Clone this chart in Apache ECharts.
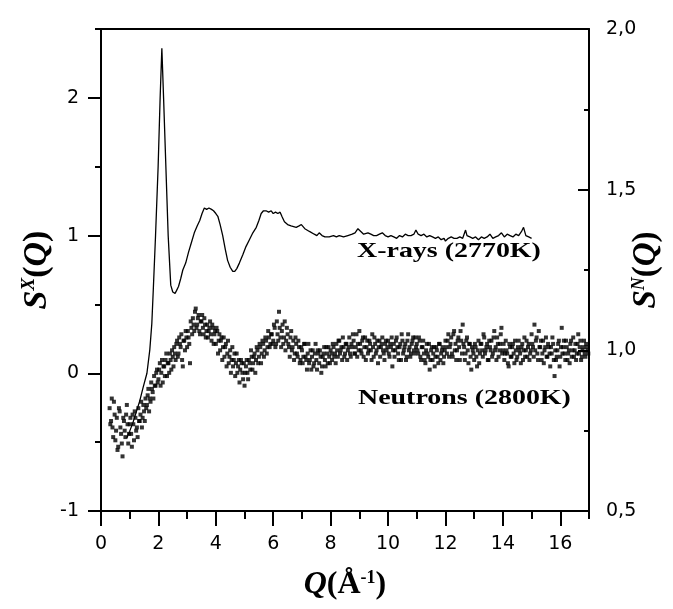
<!DOCTYPE html>
<html>
<head>
<meta charset="utf-8">
<script src="https://cdn.jsdelivr.net/npm/echarts@6/dist/echarts.min.js"></script>
<style>
html,body{margin:0;padding:0;background:#fff;}
#chart{width:673px;height:609px;}
</style>
</head>
<body>
<div id="chart"></div>
<script>
// ---- Data ----
const xMajorTicks = [0, 2, 4, 6, 8, 10, 12, 14, 16];
const xMinorTicks = [1, 3, 5, 7, 9, 11, 13, 15, 17];
const leftMajorTicks = [-1, 0, 1, 2];
const leftMinorTicks = [-0.5, 0.5, 1.5, 2.5];
const rightMajorTicks = [0.5, 1.0, 1.5, 2.0];
const rightMinorTicks = [0.75, 1.25, 1.75];

// X-rays S^X(Q), left axis
const xrayQ = [0.9,1.0,1.11,1.23,1.35,1.47,1.6,1.7,1.77,1.82,1.9,1.99,2.06,2.12,2.18,2.26,2.34,2.43,2.5,2.58,2.63,2.7,2.78,2.85,2.95,3.05,3.15,3.25,3.35,3.44,3.52,3.6,3.68,3.76,3.85,3.92,4.0,4.07,4.15,4.24,4.33,4.41,4.5,4.59,4.66,4.73,4.82,4.94,5.05,5.17,5.29,5.41,5.5,5.58,5.66,5.75,5.84,5.93,6.0,6.08,6.16,6.24,6.3,6.39,6.5,6.62,6.8,6.9,6.98,7.1,7.26,7.43,7.52,7.6,7.7,7.8,7.95,8.1,8.2,8.3,8.45,8.6,8.75,8.85,8.95,9.05,9.15,9.3,9.4,9.5,9.6,9.7,9.8,9.9,10.0,10.1,10.2,10.3,10.4,10.5,10.6,10.7,10.8,10.9,10.97,11.05,11.15,11.25,11.35,11.45,11.55,11.65,11.75,11.85,11.95,12.0,12.1,12.2,12.3,12.4,12.5,12.6,12.7,12.75,12.85,12.95,13.05,13.15,13.25,13.35,13.45,13.55,13.65,13.75,13.85,13.95,14.05,14.15,14.25,14.35,14.45,14.55,14.65,14.72,14.8,14.9,14.95,15.0];
const xrayS = [-0.47,-0.42,-0.36,-0.28,-0.2,-0.1,0.0,0.17,0.36,0.6,1.0,1.5,2.0,2.36,2.0,1.5,1.0,0.64,0.59,0.58,0.6,0.63,0.69,0.75,0.8,0.88,0.95,1.02,1.07,1.11,1.16,1.2,1.19,1.2,1.19,1.18,1.16,1.14,1.08,1.0,0.9,0.82,0.77,0.74,0.74,0.76,0.8,0.86,0.92,0.97,1.02,1.06,1.11,1.16,1.18,1.18,1.17,1.18,1.16,1.17,1.16,1.17,1.14,1.1,1.08,1.07,1.06,1.07,1.08,1.05,1.03,1.01,1.0,1.02,1.0,0.99,0.99,1.0,0.99,1.0,0.99,1.0,1.01,1.02,1.05,1.03,1.01,1.02,1.01,1.0,1.0,1.01,1.02,1.0,0.99,1.0,0.99,0.98,1.0,0.99,1.01,1.0,1.0,1.01,1.04,1.01,1.0,1.01,0.99,1.0,0.99,0.98,0.99,0.97,0.98,0.96,0.98,0.99,0.98,0.98,0.99,0.98,1.04,1.0,0.99,0.98,0.99,0.97,0.99,0.98,0.99,1.01,0.98,0.99,1.0,1.02,0.99,1.01,1.0,0.99,1.01,1.0,1.03,1.06,1.0,0.99,1.0,0.98];

// Neutrons S^N(Q), right axis (two interleaved sets of readings)
const neutronQ = [0.30,0.35,0.40,0.45,0.50,0.55,0.60,0.65,0.70,0.75,0.80,0.85,0.90,0.95,
1.00,1.05,1.10,1.15,1.20,1.25,1.30,1.35,1.40,1.45,1.50,1.55,1.60,1.65,1.70,1.75,1.80,1.85,1.90,1.95,
2.00,2.05,2.10,2.15,2.20,2.25,2.30,2.35,2.40,2.45,2.50,2.55,2.60,2.65,2.70,2.75,2.80,2.85,2.90,2.95,
3.00,3.05,3.10,3.15,3.20,3.25,3.30,3.35,3.40,3.45,3.50,3.55,3.60,3.65,3.70,3.75,3.80,3.85,3.90,3.95,
4.00,4.05,4.10,4.15,4.20,4.25,4.30,4.35,4.40,4.45,4.50,4.55,4.60,4.65,4.70,4.75,4.80,4.85,4.90,4.95,
5.00,5.05,5.10,5.15,5.20,5.25,5.30,5.35,5.40,5.45,5.50,5.55,5.60,5.65,5.70,5.75,5.80,5.85,5.90,5.95,
6.00,6.05,6.10,6.15,6.20,6.25,6.30,6.35,6.40,6.45,6.50,6.55,6.60,6.65,6.70,6.75,6.80,6.85,6.90,6.95,
7.00,7.05,7.10,7.15,7.20,7.25,7.30,7.35,7.40,7.45,7.50,7.55,7.60,7.65,7.70,7.75,7.80,7.85,7.90,7.95,
8.00,8.05,8.10,8.15,8.20,8.25,8.30,8.35,8.40,8.45,8.50,8.55,8.60,8.65,8.70,8.75,8.80,8.85,8.90,8.95,
9.00,9.05,9.10,9.15,9.20,9.25,9.30,9.35,9.40,9.45,9.50,9.55,9.60,9.65,9.70,9.75,9.80,9.85,9.90,9.95,
10.00,10.05,10.10,10.15,10.20,10.25,10.30,10.35,10.40,10.45,10.50,10.55,10.60,10.65,10.70,10.75,10.80,10.85,10.90,10.95,
11.00,11.05,11.10,11.15,11.20,11.25,11.30,11.35,11.40,11.45,11.50,11.55,11.60,11.65,11.70,11.75,11.80,11.85,11.90,11.95,
12.00,12.05,12.10,12.15,12.20,12.25,12.30,12.35,12.40,12.45,12.50,12.55,12.60,12.65,12.70,12.75,12.80,12.85,12.90,12.95,
13.00,13.05,13.10,13.15,13.20,13.25,13.30,13.35,13.40,13.45,13.50,13.55,13.60,13.65,13.70,13.75,13.80,13.85,13.90,13.95,
14.00,14.05,14.10,14.15,14.20,14.25,14.30,14.35,14.40,14.45,14.50,14.55,14.60,14.65,14.70,14.75,14.80,14.85,14.90,14.95,
15.00,15.05,15.10,15.15,15.20,15.25,15.30,15.35,15.40,15.45,15.50,15.55,15.60,15.65,15.70,15.75,15.80,15.85,15.90,15.95,
16.00,16.05,16.10,16.15,16.20,16.25,16.30,16.35,16.40,16.45,16.50,16.55,16.60,16.65,16.70,16.75,16.80,16.85,16.90,16.95];
const neutronS = [0.82,0.78,0.76,0.84,0.72,0.79,0.70,0.81,0.74,0.67,0.78,0.73,0.83,0.71,
0.77,0.74,0.80,0.72,0.79,0.76,0.82,0.78,0.84,0.79,0.81,0.85,0.83,0.88,0.85,0.90,0.87,0.92,0.89,0.94,
0.91,0.96,0.93,0.90,0.95,0.97,0.92,0.96,0.99,0.94,0.98,1.01,0.97,1.03,0.99,1.02,1.05,0.95,1.03,1.06,
1.01,1.04,0.96,1.07,1.10,1.06,1.13,1.08,1.11,1.05,1.09,1.07,1.10,1.04,1.08,1.06,1.09,1.03,1.07,1.05,
1.02,1.06,1.03,1.00,1.04,1.01,0.98,1.02,0.99,0.96,1.00,0.97,0.95,0.99,0.96,0.93,0.97,0.94,0.96,0.91,
0.89,0.95,0.93,0.97,0.94,0.98,0.96,0.99,0.97,1.00,0.98,1.01,0.99,1.02,1.00,1.03,1.01,1.04,1.02,1.05,
1.03,1.07,1.02,1.05,1.12,1.04,1.06,1.02,1.09,1.03,1.05,1.01,1.04,1.00,1.03,0.99,1.02,0.98,1.01,0.97,
1.00,0.98,1.02,0.97,0.99,0.96,1.00,0.98,0.95,0.99,0.97,1.00,0.96,0.98,0.95,0.99,0.97,1.01,0.96,0.98,
1.00,0.97,1.01,0.99,1.02,0.98,1.03,1.00,0.97,1.01,0.99,1.02,1.00,1.04,0.98,1.01,1.03,0.99,1.05,1.02,
1.06,1.00,1.03,0.98,1.04,1.01,0.99,1.03,1.00,1.05,0.98,1.02,1.00,0.96,1.03,1.01,1.04,0.99,1.02,1.00,
1.03,0.98,1.01,0.95,1.02,1.00,1.04,0.99,1.01,0.97,1.03,1.00,1.02,0.98,1.05,1.01,0.99,1.03,1.00,1.04,
1.02,0.99,1.03,0.97,1.01,0.99,0.96,1.02,0.98,0.94,1.00,0.97,1.01,0.98,1.00,0.96,1.02,0.99,1.01,0.98,
1.03,0.99,1.05,1.01,1.04,0.98,1.06,1.02,1.00,1.04,0.97,1.03,1.08,1.01,0.99,1.04,0.96,1.02,0.94,1.00,
0.97,1.01,0.95,1.03,0.99,1.02,0.98,1.04,1.00,1.02,0.97,1.01,1.03,0.99,1.06,1.01,1.04,0.98,1.02,1.07,
1.00,0.97,1.03,0.99,0.95,1.01,0.98,1.02,0.96,1.00,0.98,1.03,0.99,1.01,0.97,1.04,1.00,0.98,1.02,0.99,
1.05,1.01,1.08,1.03,0.99,1.06,1.01,0.97,1.03,1.00,1.04,0.98,1.01,0.95,0.99,1.02,0.92,0.97,1.00,1.03,
0.98,1.07,1.01,0.99,1.03,0.97,1.00,1.02,0.98,1.04,1.00,0.97,1.02,0.99,1.03,0.98,1.01,0.99,1.02,1.00];

const neutronQ2 = [0.325,0.375,0.425,0.475,0.525,0.575,0.625,0.675,0.725,0.775,0.825,0.875,0.925,0.975,
1.025,1.075,1.125,1.175,1.225,1.275,1.325,1.375,1.425,1.475,1.525,1.575,1.625,1.675,1.725,1.775,1.825,1.875,1.925,1.975,
2.025,2.075,2.125,2.175,2.225,2.275,2.325,2.375,2.425,2.475,2.525,2.575,2.625,2.675,2.725,2.775,2.825,2.875,2.925,2.975,
3.025,3.075,3.125,3.175,3.225,3.275,3.325,3.375,3.425,3.475,3.525,3.575,3.625,3.675,3.725,3.775,3.825,3.875,3.925,3.975,
4.025,4.075,4.125,4.175,4.225,4.275,4.325,4.375,4.425,4.475,4.525,4.575,4.625,4.675,4.725,4.775,4.825,4.875,4.925,4.975,
5.025,5.075,5.125,5.175,5.225,5.275,5.325,5.375,5.425,5.475,5.525,5.575,5.625,5.675,5.725,5.775,5.825,5.875,5.925,5.975,
6.025,6.075,6.125,6.175,6.225,6.275,6.325,6.375,6.425,6.475,6.525,6.575,6.625,6.675,6.725,6.775,6.825,6.875,6.925,6.975,
7.025,7.075,7.125,7.175,7.225,7.275,7.325,7.375,7.425,7.475,7.525,7.575,7.625,7.675,7.725,7.775,7.825,7.875,7.925,7.975,
8.025,8.075,8.125,8.175,8.225,8.275,8.325,8.375,8.425,8.475,8.525,8.575,8.625,8.675,8.725,8.775,8.825,8.875,8.925,8.975,
9.025,9.075,9.125,9.175,9.225,9.275,9.325,9.375,9.425,9.475,9.525,9.575,9.625,9.675,9.725,9.775,9.825,9.875,9.925,9.975,
10.025,10.075,10.125,10.175,10.225,10.275,10.325,10.375,10.425,10.475,10.525,10.575,10.625,10.675,10.725,10.775,10.825,10.875,10.925,10.975,
11.025,11.075,11.125,11.175,11.225,11.275,11.325,11.375,11.425,11.475,11.525,11.575,11.625,11.675,11.725,11.775,11.825,11.875,11.925,11.975,
12.025,12.075,12.125,12.175,12.225,12.275,12.325,12.375,12.425,12.475,12.525,12.575,12.625,12.675,12.725,12.775,12.825,12.875,12.925,12.975,
13.025,13.075,13.125,13.175,13.225,13.275,13.325,13.375,13.425,13.475,13.525,13.575,13.625,13.675,13.725,13.775,13.825,13.875,13.925,13.975,
14.025,14.075,14.125,14.175,14.225,14.275,14.325,14.375,14.425,14.475,14.525,14.575,14.625,14.675,14.725,14.775,14.825,14.875,14.925,14.975,
15.025,15.075,15.125,15.175,15.225,15.275,15.325,15.375,15.425,15.475,15.525,15.575,15.625,15.675,15.725,15.775,15.825,15.875,15.925,15.975,
16.025,16.075,16.125,16.175,16.225,16.275,16.325,16.375,16.425,16.475,16.525,16.575,16.625,16.675,16.725,16.775,16.825,16.875,16.925,16.975];
const neutronS2 = [0.77,0.85,0.73,0.80,0.75,0.69,0.82,0.76,0.71,0.79,0.75,0.80,0.77,0.74,
0.79,0.70,0.77,0.81,0.75,0.73,0.78,0.80,0.76,0.83,0.78,0.82,0.86,0.81,0.84,0.88,0.85,0.89,0.93,0.90,
0.94,0.89,0.97,0.95,0.92,0.99,0.96,0.93,0.97,1.00,0.95,0.99,1.02,0.98,1.04,1.01,0.97,1.03,1.00,1.04,
1.06,1.02,1.09,1.05,1.08,1.12,1.07,1.10,1.06,1.09,1.11,1.05,1.08,1.06,1.04,1.07,1.05,1.08,1.02,1.06,
1.07,0.99,1.05,1.03,0.97,1.04,1.01,0.95,1.03,0.98,0.93,1.01,0.97,0.92,0.99,0.95,0.90,0.97,0.93,0.96,
0.93,0.97,0.91,0.96,1.00,0.94,0.98,0.93,1.01,0.96,1.02,0.96,1.03,0.98,1.04,0.99,1.06,1.01,1.05,1.02,
1.08,1.01,1.09,1.03,1.07,1.01,1.08,1.04,1.00,1.07,1.02,0.98,1.06,1.01,0.97,1.04,0.99,1.03,0.96,1.01,
0.96,1.02,0.98,0.94,1.02,0.97,0.94,1.00,0.96,1.02,0.94,0.99,1.00,0.93,0.98,1.01,0.95,0.99,1.01,0.96,
0.99,1.02,0.98,0.96,1.00,1.03,0.99,1.01,1.04,0.98,1.02,0.97,1.01,0.99,1.02,1.05,0.99,1.01,0.98,1.00,
1.02,0.99,1.04,1.01,0.97,1.03,1.00,1.02,0.97,1.01,1.04,0.99,1.03,1.01,0.98,1.02,1.00,0.97,1.03,1.01,
0.99,1.02,1.04,1.00,0.98,1.03,1.01,0.97,1.02,1.05,0.99,1.01,0.97,1.03,1.00,0.98,1.02,1.04,0.99,1.01,
1.00,1.04,0.98,1.01,1.03,0.97,1.00,0.99,1.02,0.97,1.01,0.99,0.95,1.01,0.98,1.02,0.97,1.00,0.96,1.00,
1.01,1.03,0.98,1.02,0.99,1.05,1.00,0.97,1.03,1.01,1.06,0.99,1.02,0.97,1.03,1.00,1.02,0.98,1.01,0.99,
1.02,0.98,1.00,0.96,1.02,1.00,1.05,0.99,1.01,0.97,1.03,1.00,0.98,1.04,1.00,0.97,1.02,1.00,1.05,0.99,
1.02,0.99,1.00,0.96,1.02,0.98,1.01,0.99,1.03,0.97,1.01,1.00,0.96,1.02,1.00,0.98,1.03,1.01,0.97,1.00,
1.02,0.98,1.00,1.04,0.97,1.01,1.03,0.99,0.96,1.01,0.98,1.02,0.99,1.01,1.04,0.97,1.00,0.98,1.02,0.95,
1.01,0.99,1.03,0.97,1.01,0.99,0.96,1.03,1.00,0.98,1.02,0.99,1.05,1.01,0.97,1.00,1.03,0.98,1.01,0.99];

// ---- Chart ----
const xrayData = xrayQ.map((q, i) => [q, xrayS[i]]);
const neutronData = neutronQ.map((q, i) => [q, neutronS[i]])
  .concat(neutronQ2.map((q, i) => [q, neutronS2[i]]));

const black = '#000';
const labelFont = { color: black, fontFamily: 'DejaVu Sans', fontSize: 19 };
const serifBI = { fontFamily: 'Liberation Serif', fontWeight: 'bold', fontStyle: 'italic', color: black };
const serifB = { fontFamily: 'Liberation Serif', fontWeight: 'bold', color: black };

function titleRich(size) {
  return {
    i: Object.assign({ fontSize: size }, serifBI),
    p: Object.assign({ fontSize: size }, serifB),
    sup: Object.assign({ fontSize: Math.round(size * 0.55), verticalAlign: 'top' }, serifBI),
    supb: Object.assign({ fontSize: Math.round(size * 0.55), verticalAlign: 'top' }, serifB)
  };
}

const chart = echarts.init(document.getElementById('chart'), null, { renderer: 'canvas' });
chart.setOption({
  backgroundColor: '#fff',
  animation: false,
  grid: { left: 101, right: 84, top: 29, bottom: 98, containLabel: false, outerBoundsMode: 'none' },
  xAxis: [
    {
      type: 'value', position: 'bottom', min: 0, max: 17,
      axisLine: { show: true, onZero: false, lineStyle: { color: black, width: 2 } },
      axisTick: { show: true, inside: false, length: 15, lineStyle: { color: black, width: 2 }, customValues: xMajorTicks },
      axisLabel: Object.assign({ show: true, margin: 24, customValues: xMajorTicks }, labelFont),
      splitLine: { show: false },
      name: '{i|Q}{p|(Å}{supb|-1}{p|)}',
      nameLocation: 'middle', nameGap: 58, nameMoveOverlap: false,
      nameTextStyle: { rich: titleRich(32) }
    },
    {
      type: 'value', position: 'bottom', min: 0, max: 17,
      axisLine: { show: false, onZero: false },
      axisTick: { show: true, inside: false, length: 8, lineStyle: { color: black, width: 2 }, customValues: xMinorTicks },
      axisLabel: { show: false },
      splitLine: { show: false }
    },
    {
      type: 'value', position: 'top', min: 0, max: 17,
      axisLine: { show: true, onZero: false, lineStyle: { color: black, width: 2 } },
      axisTick: { show: false }, axisLabel: { show: false }, splitLine: { show: false }
    }
  ],
  yAxis: [
    {
      type: 'value', position: 'left', min: -1, max: 2.5,
      axisLine: { show: true, onZero: false, lineStyle: { color: black, width: 2 } },
      axisTick: { show: true, inside: false, length: 13, lineStyle: { color: black, width: 2 }, customValues: leftMajorTicks },
      axisLabel: Object.assign({ show: true, margin: 22, customValues: leftMajorTicks }, labelFont),
      splitLine: { show: false },
      name: '{i|S}{sup|X}{p|(}{i|Q}{p|)}',
      nameLocation: 'middle', nameRotate: 90, nameGap: 47, nameMoveOverlap: false,
      nameTextStyle: { rich: titleRich(34) }
    },
    {
      type: 'value', position: 'left', min: -1, max: 2.5,
      axisLine: { show: false, onZero: false },
      axisTick: { show: true, inside: false, length: 6, lineStyle: { color: black, width: 2 }, customValues: leftMinorTicks },
      axisLabel: { show: false }, splitLine: { show: false }
    },
    {
      type: 'value', position: 'right', min: 0.5, max: 2.0,
      axisLine: { show: true, onZero: false, lineStyle: { color: black, width: 2 } },
      axisTick: { show: true, inside: true, length: 11, lineStyle: { color: black, width: 2 }, customValues: rightMajorTicks },
      axisLabel: Object.assign({ show: true, margin: 17, customValues: rightMajorTicks,
        formatter: v => v.toFixed(1).replace('.', ',') }, labelFont),
      splitLine: { show: false },
      name: '{i|S}{sup|N}{p|(}{i|Q}{p|)}',
      nameLocation: 'middle', nameRotate: 90, nameGap: 41, nameMoveOverlap: false,
      nameTextStyle: { rich: titleRich(33) }
    },
    {
      type: 'value', position: 'right', min: 0.5, max: 2.0,
      axisLine: { show: false, onZero: false },
      axisTick: { show: true, inside: true, length: 5, lineStyle: { color: black, width: 2 }, customValues: rightMinorTicks },
      axisLabel: { show: false }, splitLine: { show: false }
    }
  ],
  series: [
    {
      name: 'X-rays (2770K)', type: 'line', xAxisIndex: 0, yAxisIndex: 0,
      data: xrayData, showSymbol: false, symbol: 'none', smooth: false,
      lineStyle: { color: black, width: 1.3 }, z: 3
    },
    {
      name: 'Neutrons (2800K)', type: 'scatter', xAxisIndex: 0, yAxisIndex: 2,
      data: neutronData, symbol: 'rect', symbolSize: 4, large: false,
      itemStyle: { color: black }, z: 2
    }
  ],
  graphic: [
    {
      type: 'text', x: 357, y: 251, scaleX: 1.27, scaleY: 1,
      style: { text: 'X-rays (2770K)', fontFamily: 'Liberation Serif', fontWeight: 'bold', fontSize: 22,
        fill: black, textAlign: 'left', textVerticalAlign: 'middle' }
    },
    {
      type: 'text', x: 358, y: 398, scaleX: 1.27, scaleY: 1,
      style: { text: 'Neutrons (2800K)', fontFamily: 'Liberation Serif', fontWeight: 'bold', fontSize: 22,
        fill: black, textAlign: 'left', textVerticalAlign: 'middle' }
    }
  ]
});
</script>
</body>
</html>
